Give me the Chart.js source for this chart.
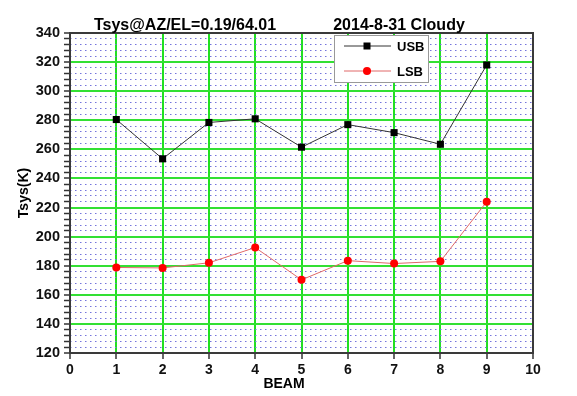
<!DOCTYPE html>
<html><head><meta charset="utf-8">
<script src="https://cdn.jsdelivr.net/npm/chart.js@4/dist/chart.umd.min.js"></script>
<style>html,body{margin:0;padding:0;background:#fff}#wrap{width:577px;height:396px}</style>
</head><body><div id="wrap"><canvas id="c" width="577" height="396"></canvas></div>
<script>
const beams = [1, 2, 3, 4, 5, 6, 7, 8, 9];
const usb = [280.5, 253.5, 278.5, 281, 261.5, 277, 271.5, 263.5, 318];
const lsb = [178.8, 178.5, 182, 192.5, 170.3, 183.5, 181.5, 183, 224];
const seriesNames = ['USB', 'LSB'];
const titleLeft = 'Tsys@AZ/EL=0.19/64.01';
const titleRight = '2014-8-31 Cloudy';
const xTitle = 'BEAM';
const yTitle = 'Tsys(K)';
const xRange = [0, 10];
const yRange = [120, 340];

const FONT = '"Liberation Sans", Arial, sans-serif';

const framePlugin = {
  id: 'frame',
  afterDatasetsDraw(chart) {
    const ctx = chart.ctx, a = chart.chartArea;
    ctx.save();
    ctx.strokeStyle = '#3a3a3a';
    ctx.lineWidth = 2;
    ctx.strokeRect(a.left, a.top, a.right - a.left, a.bottom - a.top);
    // legend
    const lx = 334, ly = 35, lw = 94, lh = 47;
    ctx.fillStyle = '#fff';
    ctx.fillRect(lx, ly, lw, lh);
    ctx.strokeStyle = '#999';
    ctx.lineWidth = 1;
    ctx.strokeRect(lx + 0.5, ly + 0.5, lw, lh);
    const rows = [46, 71];
    chart.data.datasets.forEach((ds, i) => {
      const y = rows[i];
      ctx.strokeStyle = ds.borderColor;
      ctx.lineWidth = 1;
      ctx.beginPath(); ctx.moveTo(344, y); ctx.lineTo(391, y); ctx.stroke();
      ctx.fillStyle = ds.pointBackgroundColor;
      if (ds.pointStyle === 'rect') {
        ctx.fillRect(367 - 3.5, y - 3.5, 7, 7);
      } else {
        ctx.beginPath(); ctx.arc(367, y, 4, 0, Math.PI * 2); ctx.fill();
      }
      ctx.fillStyle = '#000';
      ctx.font = 'bold 13px ' + FONT;
      ctx.textBaseline = 'middle';
      ctx.textAlign = 'left';
      ctx.fillText(ds.label, 397, y + 1);
    });
    // titles
    ctx.fillStyle = '#000';
    ctx.font = 'bold 16px ' + FONT;
    ctx.textBaseline = 'alphabetic';
    ctx.textAlign = 'center';
    ctx.fillText(titleLeft, 185, 30);
    ctx.fillText(titleRight, 399, 30);
    ctx.font = 'bold 14px ' + FONT;
    ctx.fillText(xTitle, 284, 388);
    ctx.translate(28, 193);
    ctx.rotate(-Math.PI / 2);
    ctx.fillText(yTitle, 0, 0);
    ctx.restore();
  }
};

new Chart(document.getElementById('c'), {
  type: 'scatter',
  data: {
    datasets: [
      {
        label: seriesNames[0],
        data: beams.map((b, i) => ({ x: b, y: usb[i] })),
        showLine: true,
        borderColor: '#333333',
        borderWidth: 1,
        pointStyle: 'rect',
        pointRadius: 5,
        pointBackgroundColor: '#000000',
        pointBorderColor: '#000000',
        pointBorderWidth: 0
      },
      {
        label: seriesNames[1],
        data: beams.map((b, i) => ({ x: b, y: lsb[i] })),
        showLine: true,
        borderColor: '#e06868',
        borderWidth: 1,
        pointStyle: 'circle',
        pointRadius: 4,
        pointBackgroundColor: '#ff0000',
        pointBorderColor: '#ff0000',
        pointBorderWidth: 0
      }
    ]
  },
  options: {
    responsive: false,
    animation: false,
    devicePixelRatio: 1,
    layout: { padding: { top: 33, right: 44, left: 0, bottom: 0 } },
    plugins: { legend: { display: false }, tooltip: { enabled: false } },
    scales: {
      x: {
        type: 'linear', min: xRange[0], max: xRange[1],
        afterFit(s) { s.height = 43; },
        ticks: { stepSize: 1, color: '#111', font: { family: FONT, size: 14, weight: 'bold' }, padding: 3, maxRotation: 0 },
        grid: { color: '#22e022', lineWidth: 2, tickLength: 6, tickColor: '#333', tickWidth: 1.5 },
        border: { display: false }
      },
      y: {
        type: 'linear', min: yRange[0], max: yRange[1],
        afterFit(s) { s.width = 70; },
        ticks: {
          stepSize: 4, autoSkip: false, color: '#111', padding: 4,
          font: { family: FONT, size: 14.5, weight: 'bold' },
          callback: v => (v % 20 === 0 ? String(v) : '')
        },
        grid: {
          color: c => (c.tick && c.tick.value % 20 === 0 ? '#33e033' : '#7474dc'),
          lineWidth: c => (c.tick && c.tick.value % 20 === 0 ? 2 : 1),
          tickLength: 6, tickColor: '#333', tickWidth: 1.5
        },
        border: {
          display: false,
          dash: c => (c.tick && c.tick.value % 20 === 0 ? [] : [1.5, 3.5])
        }
      }
    }
  },
  plugins: [framePlugin]
});
</script></body></html>
